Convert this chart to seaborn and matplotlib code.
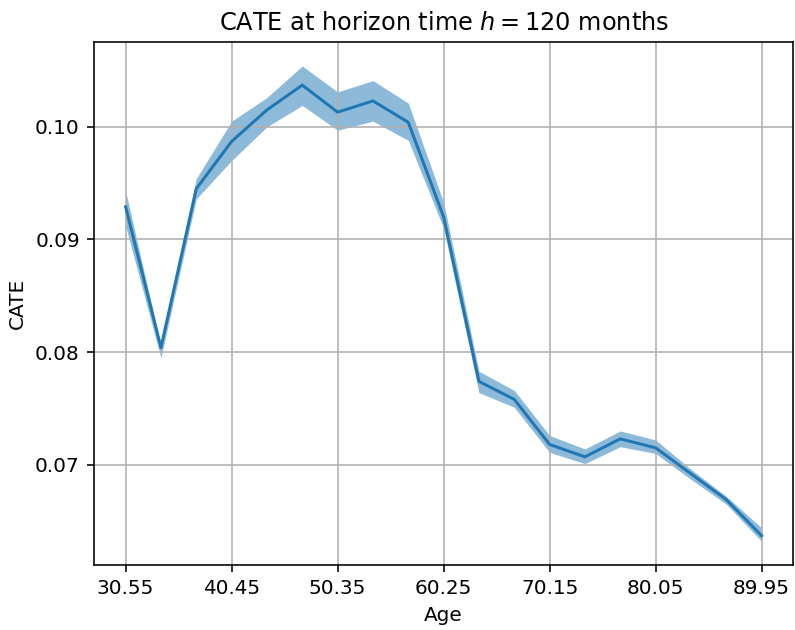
import numpy as np
import pandas as pd
import seaborn as sns
import matplotlib.pyplot as plt

# ages on the x axis (step 3.3)
age = [30.55, 33.85, 37.15, 40.45, 43.75, 47.05, 50.35, 53.65, 56.95, 60.25,
       63.55, 66.85, 70.15, 73.45, 76.75, 80.05, 83.35, 86.65, 89.95]
cate = [0.0929, 0.0804, 0.0945, 0.0987, 0.1015, 0.1037, 0.1013, 0.1023, 0.1004, 0.0920,
        0.0774, 0.0758, 0.0718, 0.0707, 0.0723, 0.0715, 0.0692, 0.0669, 0.0637]
lower = [0.0912, 0.0795, 0.0936, 0.0970, 0.1000, 0.1019, 0.0997, 0.1005, 0.0988, 0.0910,
         0.0764, 0.0751, 0.0711, 0.0701, 0.0716, 0.0710, 0.0687, 0.0665, 0.0632]
upper = [0.0943, 0.0806, 0.0954, 0.1005, 0.1026, 0.1054, 0.1031, 0.1041, 0.1021, 0.0933,
         0.0783, 0.0766, 0.0726, 0.0714, 0.0730, 0.0722, 0.0696, 0.0672, 0.0644]
xticks = [30.55, 40.45, 50.35, 60.25, 70.15, 80.05, 89.95]

# long format: median is the estimate, min/max give the band
df = pd.DataFrame({
    "Age": age * 3,
    "CATE": lower + cate + upper,
})

fig = plt.figure(figsize=(795 / 144, 630 / 144), dpi=144)
ax = fig.add_axes([0.118, 0.103, 0.880, 0.830])

sns.lineplot(data=df, x="Age", y="CATE", estimator="median",
             errorbar=lambda v: (v.min(), v.max()),
             color="#1f77b4", linewidth=1.5,
             err_kws={"alpha": 0.5, "linewidth": 0}, ax=ax)

ax.set_xticks(xticks)
ax.set_xticklabels([f"{t:.2f}" for t in xticks])
ax.set_yticks([0.07, 0.08, 0.09, 0.10])
ax.grid(True)
ax.set_title("CATE at horizon time $h = 120$ months")
ax.set_xlabel("Age")
ax.set_ylabel("CATE")

fig.savefig("out.png", dpi=144)
